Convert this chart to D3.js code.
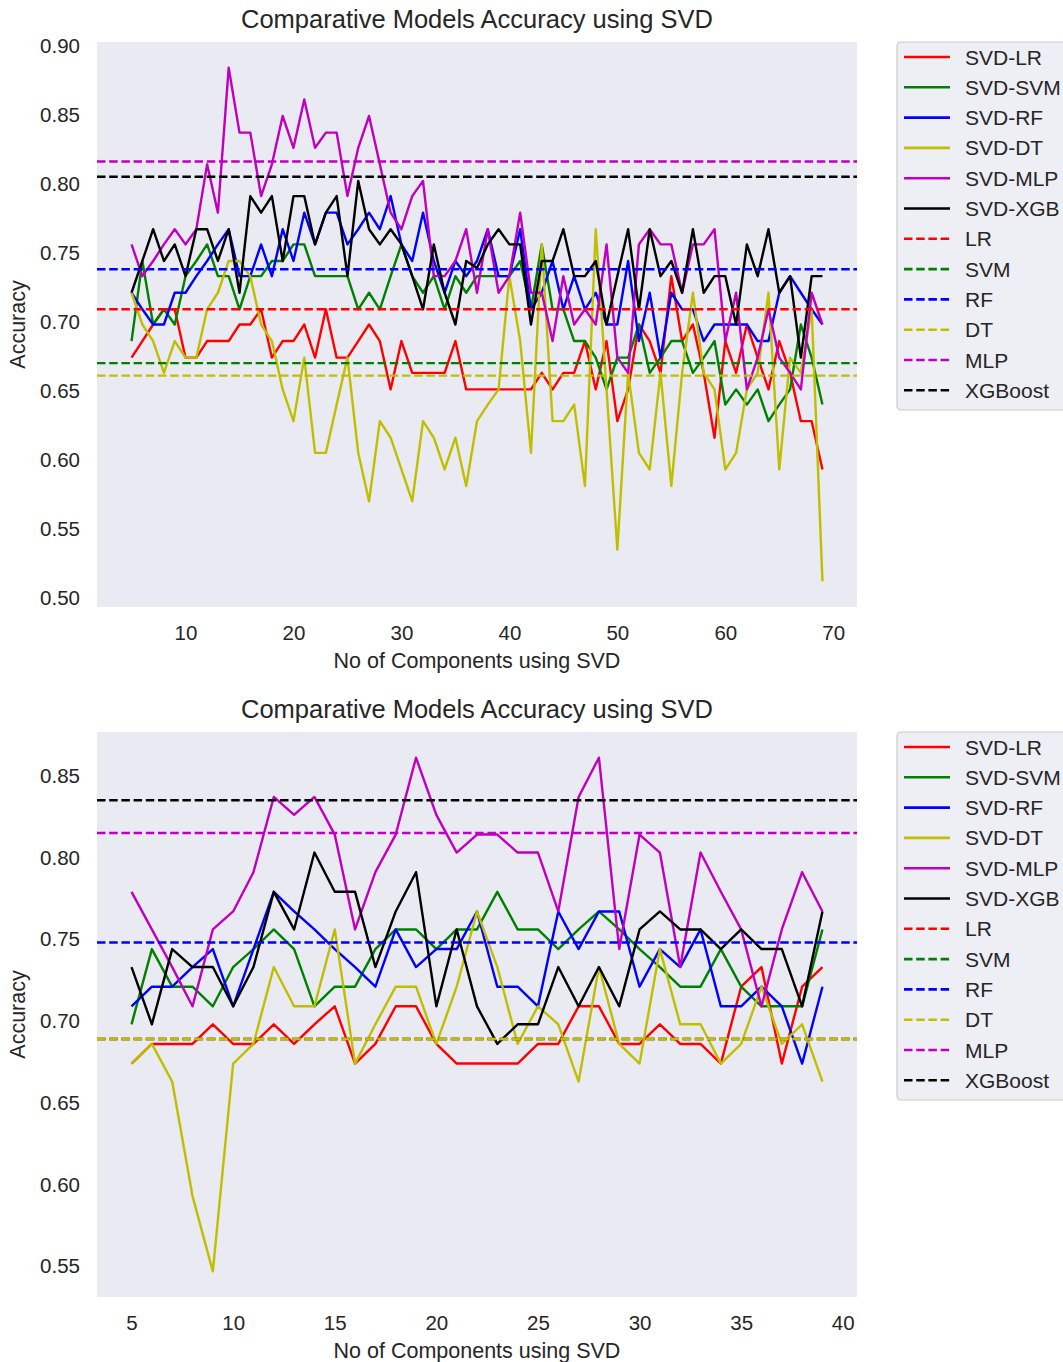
<!DOCTYPE html>
<html>
<head>
<meta charset="utf-8">
<script src="https://cdn.jsdelivr.net/npm/d3@7"></script>
<style>
  body { margin: 0; background: #fff; }
  svg { display: block; overflow: hidden; }
  text { font-family: "Liberation Sans", Arial, sans-serif; fill: #262626; }
</style>
</head>
<body>
<script>
// ---- data ----
const seriesNames = ["SVD-LR", "SVD-SVM", "SVD-RF", "SVD-DT", "SVD-MLP", "SVD-XGB"];
const baselineNames = ["LR", "SVM", "RF", "DT", "MLP", "XGBoost"];
const colors = ["#ff0000", "#008000", "#0000ff", "#bfbf00", "#bf00bf", "#000000"];

// first run: 5..69 components
const topComponents = [5, 6, 7, 8, 9, 10, 11, 12, 13, 14, 15, 16, 17, 18, 19, 20, 21, 22, 23, 24,
  25, 26, 27, 28, 29, 30, 31, 32, 33, 34, 35, 36, 37, 38, 39, 40, 41, 42, 43, 44, 45, 46, 47,
  48, 49, 50, 51, 52, 53, 54, 55, 56, 57, 58, 59, 60, 61, 62, 63, 64, 65, 66, 67, 68, 69];

const topLR = [0.674, 0.686, 0.698, 0.709, 0.709, 0.674, 0.674, 0.686, 0.686, 0.686, 0.698, 0.698, 0.709, 0.674,
  0.686, 0.686, 0.698, 0.674, 0.709, 0.674, 0.674, 0.686, 0.698, 0.686, 0.651, 0.686, 0.663, 0.663,
  0.663, 0.663, 0.686, 0.651, 0.651, 0.651, 0.651, 0.651, 0.651, 0.651, 0.663, 0.651, 0.663, 0.663,
  0.686, 0.651, 0.686, 0.628, 0.651, 0.698, 0.686, 0.663, 0.733, 0.686, 0.698, 0.663, 0.616, 0.686,
  0.663, 0.698, 0.674, 0.651, 0.686, 0.663, 0.628, 0.628, 0.593];
const topSVM = [0.686, 0.744, 0.698, 0.709, 0.698, 0.733, 0.744, 0.756, 0.733, 0.733, 0.709, 0.733, 0.733, 0.744,
  0.744, 0.756, 0.756, 0.733, 0.733, 0.733, 0.733, 0.709, 0.721, 0.709, 0.733, 0.756, 0.733, 0.721,
  0.733, 0.709, 0.733, 0.721, 0.733, 0.733, 0.733, 0.733, 0.744, 0.709, 0.756, 0.709, 0.709, 0.686,
  0.686, 0.674, 0.651, 0.674, 0.674, 0.698, 0.663, 0.674, 0.686, 0.686, 0.663, 0.674, 0.686, 0.640,
  0.651, 0.640, 0.651, 0.628, 0.640, 0.651, 0.698, 0.674, 0.640];
const topRF = [0.721, 0.709, 0.698, 0.698, 0.721, 0.721, 0.733, 0.744, 0.756, 0.767, 0.733, 0.733, 0.756, 0.733,
  0.767, 0.744, 0.779, 0.756, 0.779, 0.779, 0.756, 0.767, 0.779, 0.767, 0.791, 0.756, 0.744, 0.779,
  0.744, 0.721, 0.744, 0.733, 0.744, 0.767, 0.733, 0.733, 0.767, 0.709, 0.721, 0.744, 0.709, 0.733,
  0.709, 0.721, 0.698, 0.698, 0.744, 0.686, 0.721, 0.674, 0.721, 0.709, 0.709, 0.686, 0.698, 0.698,
  0.698, 0.698, 0.686, 0.686, 0.721, 0.733, 0.721, 0.709, 0.698];
const topDT = [0.721, 0.698, 0.686, 0.663, 0.686, 0.674, 0.674, 0.709, 0.721, 0.744, 0.744, 0.733, 0.698, 0.686,
  0.651, 0.628, 0.674, 0.605, 0.605, 0.640, 0.674, 0.605, 0.570, 0.628, 0.616, 0.593, 0.570, 0.628,
  0.616, 0.593, 0.616, 0.581, 0.628, 0.640, 0.651, 0.733, 0.686, 0.605, 0.756, 0.628, 0.628, 0.640,
  0.581, 0.767, 0.651, 0.535, 0.663, 0.605, 0.593, 0.663, 0.581, 0.663, 0.721, 0.663, 0.651, 0.593,
  0.605, 0.651, 0.663, 0.721, 0.593, 0.674, 0.663, 0.709, 0.512];
const topMLP = [0.756, 0.733, 0.744, 0.756, 0.767, 0.756, 0.767, 0.814, 0.779, 0.884, 0.837, 0.837, 0.791, 0.814,
  0.849, 0.826, 0.861, 0.826, 0.837, 0.837, 0.791, 0.826, 0.849, 0.814, 0.779, 0.767, 0.791, 0.802,
  0.733, 0.733, 0.744, 0.767, 0.721, 0.767, 0.721, 0.733, 0.779, 0.721, 0.721, 0.686, 0.733, 0.698,
  0.709, 0.698, 0.756, 0.674, 0.663, 0.756, 0.767, 0.756, 0.756, 0.721, 0.756, 0.756, 0.767, 0.686,
  0.721, 0.651, 0.674, 0.709, 0.674, 0.663, 0.651, 0.721, 0.698];
const topXGB = [0.721, 0.744, 0.767, 0.744, 0.756, 0.733, 0.767, 0.767, 0.744, 0.767, 0.721, 0.791, 0.779, 0.791,
  0.744, 0.791, 0.791, 0.756, 0.779, 0.791, 0.733, 0.802, 0.767, 0.756, 0.767, 0.756, 0.733, 0.709,
  0.756, 0.721, 0.698, 0.744, 0.739, 0.756, 0.767, 0.756, 0.756, 0.698, 0.744, 0.744, 0.767, 0.733,
  0.733, 0.744, 0.698, 0.733, 0.767, 0.709, 0.767, 0.733, 0.744, 0.721, 0.767, 0.721, 0.733, 0.733,
  0.698, 0.756, 0.733, 0.767, 0.721, 0.733, 0.674, 0.733, 0.733];
const topBaselines = [0.709, 0.670, 0.738, 0.661, 0.816, 0.805];

// second run: 5..39 components
const bottomComponents = [5, 6, 7, 8, 9, 10, 11, 12, 13, 14, 15, 16, 17, 18, 19, 20, 21, 22,
  23, 24, 25, 26, 27, 28, 29, 30, 31, 32, 33, 34, 35, 36, 37, 38, 39];

const bottomLR = [0.674, 0.686, 0.686, 0.686, 0.698, 0.686, 0.686, 0.698, 0.686, 0.698, 0.709, 0.674, 0.686,
  0.709, 0.709, 0.686, 0.674, 0.674, 0.674, 0.674, 0.686, 0.686, 0.709, 0.709, 0.686,
  0.686, 0.698, 0.686, 0.686, 0.674, 0.721, 0.733, 0.674, 0.721, 0.733];
const bottomSVM = [0.698, 0.744, 0.721, 0.721, 0.709, 0.733, 0.744, 0.756, 0.744, 0.709, 0.721, 0.721, 0.744,
  0.756, 0.756, 0.744, 0.756, 0.756, 0.779, 0.756, 0.756, 0.744, 0.756, 0.767, 0.756,
  0.744, 0.733, 0.721, 0.721, 0.744, 0.721, 0.709, 0.709, 0.709, 0.756];
const bottomRF = [0.709, 0.721, 0.721, 0.733, 0.744, 0.709, 0.744, 0.779, 0.767, 0.756, 0.744, 0.733, 0.721,
  0.756, 0.733, 0.744, 0.744, 0.767, 0.721, 0.721, 0.709, 0.767, 0.744, 0.767, 0.767,
  0.721, 0.744, 0.733, 0.756, 0.709, 0.709, 0.721, 0.709, 0.674, 0.721];
const bottomDT = [0.674, 0.686, 0.663, 0.593, 0.547, 0.674, 0.686, 0.733, 0.709, 0.709, 0.756, 0.674, 0.698,
  0.721, 0.721, 0.686, 0.721, 0.767, 0.733, 0.686, 0.709, 0.698, 0.663, 0.733, 0.686,
  0.674, 0.744, 0.698, 0.698, 0.674, 0.686, 0.721, 0.686, 0.698, 0.663];
const bottomMLP = [0.779, 0.756, 0.733, 0.709, 0.756, 0.767, 0.791, 0.837, 0.826, 0.837, 0.814, 0.756, 0.791,
  0.814, 0.861, 0.826, 0.803, 0.814, 0.814, 0.803, 0.803, 0.767, 0.837, 0.861, 0.744,
  0.814, 0.803, 0.733, 0.803, 0.779, 0.756, 0.709, 0.756, 0.791, 0.767];
const bottomXGB = [0.733, 0.698, 0.744, 0.733, 0.733, 0.709, 0.733, 0.779, 0.756, 0.803, 0.779, 0.779, 0.733,
  0.767, 0.791, 0.709, 0.756, 0.709, 0.686, 0.698, 0.698, 0.733, 0.709, 0.733, 0.709,
  0.756, 0.767, 0.756, 0.756, 0.744, 0.756, 0.744, 0.744, 0.709, 0.767];
const bottomBaselines = [0.689, 0.689, 0.748, 0.689, 0.815, 0.835];

const titleText = "Comparative Models Accuracy using SVD";
const xLabelText = "No of Components using SVD";
const yLabelText = "Accuracy";
const topYTicks = [0.50, 0.55, 0.60, 0.65, 0.70, 0.75, 0.80, 0.85, 0.90];
const topXTicks = [10, 20, 30, 40, 50, 60, 70];
const bottomYTicks = [0.55, 0.60, 0.65, 0.70, 0.75, 0.80, 0.85];
const bottomXTicks = [5, 10, 15, 20, 25, 30, 35, 40];

// ---- drawing ----
const svg = d3.select("body").append("svg")
  .attr("width", 1063)
  .attr("height", 1362);

const plotLeft = 97, plotRight = 857;
const tickFont = 20.5;

function drawPanel(top, bottom, xs, series, baselines, xTicks, yTicks) {
  // matplotlib-like 5% margins
  const xExt = d3.extent(xs);
  const xPad = (xExt[1] - xExt[0]) * 0.05;
  const allY = series.flat();
  const yExt = d3.extent(allY);
  const yPad = (yExt[1] - yExt[0]) * 0.05;

  const xScale = d3.scaleLinear().domain([xExt[0] - xPad, xExt[1] + xPad]).range([plotLeft, plotRight]);
  const yScale = d3.scaleLinear().domain([yExt[0] - yPad, yExt[1] + yPad]).range([bottom, top]);

  const g = svg.append("g");

  g.append("rect")
    .attr("x", plotLeft).attr("y", top)
    .attr("width", plotRight - plotLeft).attr("height", bottom - top)
    .attr("fill", "#eaeaf2");

  const line = d3.line()
    .x((d, i) => xScale(xs[i]))
    .y(d => yScale(d));

  g.selectAll(".series")
    .data(series)
    .join("path")
    .attr("class", "series")
    .attr("fill", "none")
    .attr("stroke", (d, i) => colors[i])
    .attr("stroke-width", 2.4)
    .attr("stroke-linejoin", "round")
    .attr("d", d => line(d));

  g.selectAll(".baseline")
    .data(baselines)
    .join("line")
    .attr("class", "baseline")
    .attr("x1", plotLeft).attr("x2", plotRight)
    .attr("y1", d => yScale(d)).attr("y2", d => yScale(d))
    .attr("stroke", (d, i) => colors[i])
    .attr("stroke-width", 2.4)
    .attr("stroke-dasharray", "8.5,3.7");

  // axes
  const yAxis = d3.axisLeft(yScale).tickValues(yTicks).tickFormat(d3.format(".2f"))
    .tickSize(0).tickPadding(17);
  g.append("g")
    .attr("transform", `translate(${plotLeft},0)`)
    .call(yAxis)
    .call(a => a.select(".domain").remove())
    .selectAll("text")
    .attr("font-size", tickFont).attr("font-family", "Liberation Sans, Arial, sans-serif").attr("fill", "#262626");

  const xAxis = d3.axisBottom(xScale).tickValues(xTicks).tickSize(0).tickPadding(18);
  g.append("g")
    .attr("transform", `translate(0,${bottom})`)
    .call(xAxis)
    .call(a => a.select(".domain").remove())
    .selectAll("text")
    .attr("font-size", tickFont).attr("font-family", "Liberation Sans, Arial, sans-serif").attr("fill", "#262626");

  const midX = (plotLeft + plotRight) / 2;
  g.append("text")
    .attr("x", midX).attr("y", top - 14)
    .attr("text-anchor", "middle")
    .attr("font-size", 25.5)
    .text(titleText);

  g.append("text")
    .attr("x", midX).attr("y", bottom + 61)
    .attr("text-anchor", "middle")
    .attr("font-size", 21.5)
    .text(xLabelText);

  g.append("text")
    .attr("transform", `translate(25,${(top + bottom) / 2}) rotate(-90)`)
    .attr("text-anchor", "middle")
    .attr("font-size", 21.5)
    .text(yLabelText);

  // legend (runs off the right edge like the original)
  const entries = seriesNames.map((n, i) => ({ name: n, color: colors[i], dashed: false }))
    .concat(baselineNames.map((n, i) => ({ name: n, color: colors[i], dashed: true })));
  const lg = g.append("g").attr("transform", `translate(897,${top})`);
  lg.append("rect")
    .attr("x", 0).attr("y", 0)
    .attr("width", 200).attr("height", 368)
    .attr("rx", 4)
    .attr("fill", "#eaeaf2").attr("fill-opacity", 0.8)
    .attr("stroke", "#cccccc").attr("stroke-width", 1.2);
  const row = lg.selectAll(".entry")
    .data(entries)
    .join("g")
    .attr("class", "entry")
    .attr("transform", (d, i) => `translate(0,${15 + i * 30.3})`);
  row.append("line")
    .attr("x1", 7).attr("x2", 53)
    .attr("stroke", d => d.color)
    .attr("stroke-width", 2.6)
    .attr("stroke-dasharray", d => d.dashed ? "8.5,3.7" : null);
  row.append("text")
    .attr("x", 68).attr("y", 7.5)
    .attr("font-size", 21)
    .text(d => d.name);
}

drawPanel(42, 607, topComponents,
  [topLR, topSVM, topRF, topDT, topMLP, topXGB], topBaselines, topXTicks, topYTicks);
drawPanel(732, 1297, bottomComponents,
  [bottomLR, bottomSVM, bottomRF, bottomDT, bottomMLP, bottomXGB], bottomBaselines, bottomXTicks, bottomYTicks);
</script>
</body>
</html>
